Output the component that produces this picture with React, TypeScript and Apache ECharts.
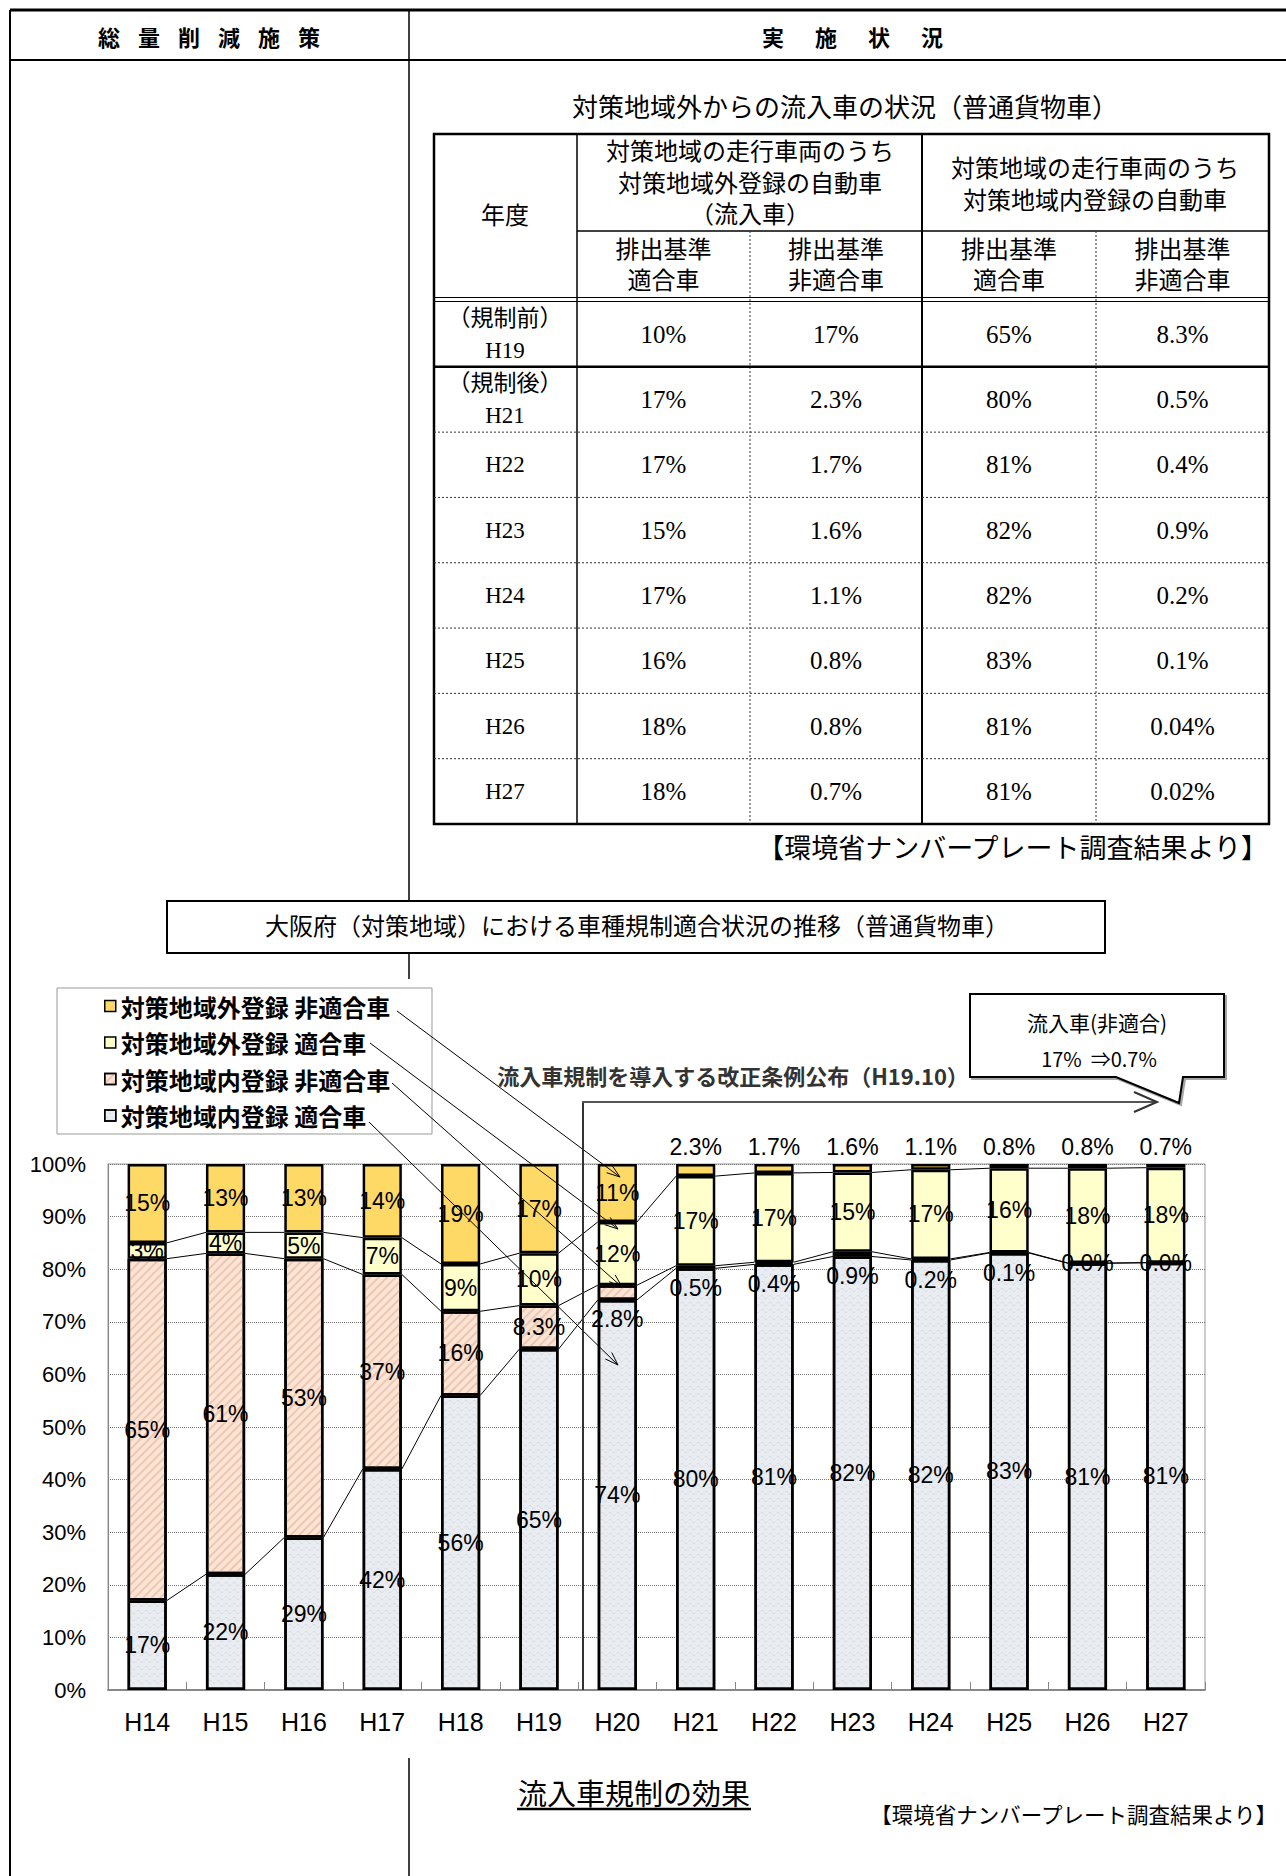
import React, { useEffect, useRef } from 'react';
import * as echarts from 'echarts';

// ---------------- data ----------------
const categories = ['H14', 'H15', 'H16', 'H17', 'H18', 'H19', 'H20', 'H21', 'H22', 'H23', 'H24', 'H25', 'H26', 'H27'];
const insideCompliant = [17, 22, 29, 42, 56, 65, 74, 80, 81, 82, 82, 83, 81, 81];
const insideNonCompliant = [65, 61, 53, 37, 16, 8.3, 2.8, 0.5, 0.4, 0.9, 0.2, 0.1, 0.04, 0.02];
const outsideCompliant = [3, 4, 5, 7, 9, 10, 12, 17, 17, 15, 17, 16, 18, 18];
const outsideNonCompliant = [15, 13, 13, 14, 19, 17, 11, 2.3, 1.7, 1.6, 1.1, 0.8, 0.8, 0.7];
const seriesNames = ['対策地域内登録 適合車', '対策地域内登録 非適合車', '対策地域外登録 適合車', '対策地域外登録 非適合車'];
const legendOrder = ['対策地域外登録 非適合車', '対策地域外登録 適合車', '対策地域内登録 非適合車', '対策地域内登録 適合車'];

const tableYearNotes = ['（規制前）', '（規制後）', '', '', '', '', '', ''];
const tableYears = ['H19', 'H21', 'H22', 'H23', 'H24', 'H25', 'H26', 'H27'];
const tableOutsideCompliant = ['10%', '17%', '17%', '15%', '17%', '16%', '18%', '18%'];
const tableOutsideNonCompliant = ['17%', '2.3%', '1.7%', '1.6%', '1.1%', '0.8%', '0.8%', '0.7%'];
const tableInsideCompliant = ['65%', '80%', '81%', '82%', '82%', '83%', '81%', '81%'];
const tableInsideNonCompliant = ['8.3%', '0.5%', '0.4%', '0.9%', '0.2%', '0.1%', '0.04%', '0.02%'];
const tableGroupOutside = ['対策地域の走行車両のうち', '対策地域外登録の自動車', '（流入車）'];
const tableGroupInside = ['対策地域の走行車両のうち', '対策地域内登録の自動車'];
const tableSubHeaders = [['排出基準', '適合車'], ['排出基準', '非適合車'], ['排出基準', '適合車'], ['排出基準', '非適合車']];

const headerLeftChars = ['総', '量', '削', '減', '施', '策'];
const headerRightChars = ['実', '施', '状', '況'];
const tableTitle = '対策地域外からの流入車の状況（普通貨物車）';
const sourceNote = '【環境省ナンバープレート調査結果より】';
const chartTitle = '大阪府（対策地域）における車種規制適合状況の推移（普通貨物車）';
const annotationText = '流入車規制を導入する改正条例公布（H19.10）';
const calloutTitle = '流入車(非適合)';
const calloutValues = '17%  ⇒0.7%';
const bottomTitle = '流入車規制の効果';

// ---------------- fonts ----------------
const JP = '"Noto Sans CJK JP", sans-serif';
const SERIF = '"Liberation Serif", "Noto Sans CJK JP", serif';
const SANS = '"Liberation Sans", Arial, sans-serif';

const raw = [insideCompliant, insideNonCompliant, outsideCompliant, outsideNonCompliant];
const totals = categories.map((_, i) => raw.reduce((s, arr) => s + arr[i], 0));
const norm = raw.map((arr) => arr.map((v, i) => (v / totals[i]) * 100));
const cum: number[][] = [];
norm.forEach((arr, s) => {
  cum.push(arr.map((v, i) => v + (s > 0 ? cum[s - 1][i] : 0)));
});
const fmt = (v: number) => (Number.isInteger(v) ? `${v}%` : `${v.toFixed(1)}%`);

const labelFor = (s: number, v: number): any => {
  if (s === 3 && v < 5) return { position: 'top', distance: 6 };
  if (s === 1 && v >= 0.1 && v < 5) return { position: 'bottom', distance: 8 };
  return { position: 'inside' };
};

const seriesColors = ['#E9ECF1', '#FCE4D6', '#FFFFCC', '#FFD966'];
const seriesDecals: any[] = [
  {
    symbol: 'path://M0 4 C2 0 4 0 6 4 C8 8 10 8 12 4 L12 5 C10 9 8 9 6 5 C4 1 2 1 0 5 Z',
    symbolSize: 1,
    dashArrayX: [[8, 0]],
    dashArrayY: [4, 3],
    color: 'rgba(165,172,185,0.55)',
  },
  {
    symbol: 'rect',
    symbolSize: 1,
    dashArrayX: [1, 0],
    dashArrayY: [1.2, 3.5],
    rotation: -Math.PI / 4,
    color: 'rgba(222,165,130,0.45)',
  },
  'none',
  'none',
];

// ---------------- graphic helpers ----------------
const line = (x1: number, y1: number, x2: number, y2: number, w = 1, color = '#000', dash?: number[]) => ({
  type: 'line',
  silent: true,
  z: 100,
  shape: { x1, y1, x2, y2 },
  style: { stroke: color, lineWidth: w, lineDash: dash },
});
const txt = (x: number, y: number, t: string, size: number, family = JP, opts: any = {}) => ({
  type: 'text',
  x,
  y,
  z: 100,
  silent: true,
  style: {
    text: t,
    fontSize: size,
    fontFamily: family,
    fontWeight: opts.weight || 'normal',
    fill: opts.color || '#000',
    align: opts.align || 'center',
    verticalAlign: 'middle',
    textAlign: opts.align || 'center',
    textVerticalAlign: 'middle',
  },
});
const arrow = (x1: number, y1: number, x2: number, y2: number, w = 1, color = '#000', head = 14, ang = 0.33) => {
  const a = Math.atan2(y2 - y1, x2 - x1);
  return [
    line(x1, y1, x2, y2, w, color),
    {
      type: 'polyline',
      silent: true,
      z: 100,
      shape: {
        points: [
          [x2 - head * Math.cos(a - ang), y2 - head * Math.sin(a - ang)],
          [x2, y2],
          [x2 - head * Math.cos(a + ang), y2 - head * Math.sin(a + ang)],
        ],
      },
      style: { stroke: color, lineWidth: w, fill: 'none' },
    },
  ];
};

function buildGraphics() {
  const g: any[] = [];
  // page frame
  g.push(line(10, 10, 1286, 10, 3));
  g.push(line(10, 60, 1286, 60, 2));
  g.push(line(10, 10, 10, 1876, 2));
  g.push(line(409, 10, 409, 901, 1.5));
  g.push(line(409, 953, 409, 979, 1.5));
  g.push(line(409, 1758, 409, 1876, 1.5));
  headerLeftChars.forEach((c, i) => g.push(txt(109 + 40 * i, 36, c, 22, JP, { weight: 'bold' })));
  headerRightChars.forEach((c, i) => g.push(txt(773 + 53 * i, 36, c, 22, JP, { weight: 'bold' })));

  // table
  g.push(txt(845, 108, tableTitle, 26, SERIF));
  const L = 434, R = 1269, T = 134, B = 824;
  const cols = [434, 577, 750, 922, 1096, 1269];
  const dataTop = 301.5;
  const rowH = (B - dataTop) / tableYears.length;
  g.push({ type: 'rect', z: 100, silent: true, shape: { x: L, y: T, width: R - L, height: B - T }, style: { fill: 'none', stroke: '#000', lineWidth: 2.5 } });
  g.push(line(577, T, 577, B, 1.5));
  g.push(line(922, T, 922, B, 2));
  g.push(line(577, 231, R, 231, 1.5));
  g.push(line(750, 231, 750, B, 1, '#333', [2, 2]));
  g.push(line(1096, 231, 1096, B, 1, '#333', [2, 2]));
  g.push(line(L, 297.5, R, 297.5, 1.2));
  g.push(line(L, 301.5, R, 301.5, 1.2));
  for (let r = 1; r < tableYears.length; r++) {
    const y = dataTop + rowH * r;
    if (r === 1) g.push(line(L, y, R, y, 2.5));
    else g.push(line(L, y, R, y, 1, '#333', [2, 2]));
  }
  g.push(txt(505, 216, '年度', 24, SERIF));
  tableGroupOutside.forEach((s, i) => g.push(txt(750, 152 + 31.5 * i, s, 24, SERIF)));
  tableGroupInside.forEach((s, i) => g.push(txt(1095, 169 + 31.5 * i, s, 24, SERIF)));
  tableSubHeaders.forEach((pair, c) => {
    const cx = (cols[c + 1] + cols[c + 2]) / 2;
    pair.forEach((s, k) => g.push(txt(cx, 250 + 31 * k, s, 24, SERIF)));
  });
  const cellCols = [tableOutsideCompliant, tableOutsideNonCompliant, tableInsideCompliant, tableInsideNonCompliant];
  tableYears.forEach((yr, r) => {
    const cy = dataTop + rowH * (r + 0.5);
    if (tableYearNotes[r]) {
      g.push(txt(505, cy - 16, tableYearNotes[r], 23, SERIF));
      g.push(txt(505, cy + 16, yr, 23, SERIF));
    } else {
      g.push(txt(505, cy, yr, 23, SERIF));
    }
    cellCols.forEach((arr, c) => {
      const cx = (cols[c + 1] + cols[c + 2]) / 2;
      g.push(txt(cx, cy, arr[r], 25, SERIF));
    });
  });
  g.push(txt(1268, 849, sourceNote, 27, SERIF, { align: 'right' }));

  // chart title box
  g.push({ type: 'rect', z: 100, silent: true, shape: { x: 167, y: 901, width: 938, height: 52 }, style: { fill: '#fff', stroke: '#000', lineWidth: 2 } });
  g.push(txt(637, 927, chartTitle, 24, SERIF));

  // legend box
  g.push({ type: 'rect', z: 1, silent: true, shape: { x: 57, y: 988, width: 375, height: 146 }, style: { fill: '#fff', stroke: '#999', lineWidth: 1 } });

  // leader lines
  g.push(...arrow(397, 1011, 620, 1177));
  g.push(...arrow(370, 1043, 618, 1229));
  g.push(...arrow(392, 1083, 622, 1287));
  g.push(...arrow(369, 1122, 618, 1365));

  // annotation
  g.push(txt(733, 1075, annotationText, 22, JP, { weight: 'bold', color: '#333' }));
  g.push(line(583, 1102, 583, 1690, 2, '#333'));
  g.push(line(582, 1102, 1157, 1102, 2, '#555'));
  g.push({
    type: 'polyline', z: 100, silent: true,
    shape: { points: [[1134, 1092], [1157, 1102], [1134, 1112]] },
    style: { stroke: '#333', lineWidth: 2, fill: 'none' },
  });

  // callout
  g.push({
    type: 'polygon', z: 100, silent: true,
    shape: { points: [[970, 994], [1224, 994], [1224, 1077], [1183, 1077], [1179, 1103], [1116, 1077], [970, 1077]] },
    style: { fill: '#fff', stroke: '#000', lineWidth: 2, shadowColor: 'rgba(0,0,0,0.35)', shadowOffsetX: 2, shadowOffsetY: 2, shadowBlur: 1 },
  });
  g.push(txt(1097, 1022, calloutTitle, 21, JP));
  g.push(txt(1099, 1058, calloutValues, 20, JP));

  // bottom
  g.push(txt(634, 1792, bottomTitle, 29, JP));
  g.push(line(517, 1809, 751, 1809, 2.5));
  g.push(txt(1277, 1816, sourceNote, 21.5, SERIF, { align: 'right' }));
  return g;
}

function buildOption(): any {
  const bars = raw.map((arr, s) => ({
    name: seriesNames[s],
    type: 'bar',
    stack: 'total',
    barWidth: '50%',
    data: arr.map((v, i) => ({ value: norm[s][i], raw: v, label: labelFor(s, v) })),
    itemStyle: { color: seriesColors[s], borderColor: '#000', borderWidth: 2.5, decal: seriesDecals[s] },
    label: {
      show: true,
      formatter: (p: any) => fmt(p.data.raw),
      fontSize: 23,
      fontFamily: SANS,
      color: '#000',
    },
    emphasis: { disabled: true },
    z: 2,
  }));
  const connectors = {
    type: 'custom',
    silent: true,
    z: 3,
    data: categories.slice(0, -1).map((_, i) => [i, 0]),
    renderItem: (_params: any, api: any) => {
      const i = api.value(0);
      const half = api.size([1, 0])[0] * 0.25;
      const children = [0, 1, 2].map((s) => {
        const p1 = api.coord([i, cum[s][i]]);
        const p2 = api.coord([i + 1, cum[s][i + 1]]);
        return {
          type: 'line',
          shape: { x1: p1[0] + half, y1: p1[1], x2: p2[0] - half, y2: p2[1] },
          style: { stroke: '#000', lineWidth: 1 },
        };
      });
      return { type: 'group', children };
    },
  };
  return {
    animation: false,
    backgroundColor: '#fff',
    grid: { left: 108, top: 1164, width: 1097, height: 526, show: true, borderColor: '#999', borderWidth: 1, backgroundColor: '#fff' },
    legend: {
      data: legendOrder.map((name) => ({ name, icon: 'rect' })),
      orient: 'vertical',
      left: 99,
      top: 989,
      itemWidth: 11,
      itemHeight: 11,
      itemGap: 12.5,
      selectedMode: false,
      textStyle: { fontSize: 24, fontFamily: JP, fontWeight: 'bold', color: '#000', lineHeight: 24 },
      itemStyle: { borderColor: '#000', borderWidth: 1.5 },
      z: 5,
    },
    xAxis: {
      type: 'category',
      data: categories,
      axisLine: { lineStyle: { color: '#888', width: 2 } },
      axisTick: { show: true, inside: true, length: 8, interval: 0, lineStyle: { color: '#888' } },
      axisLabel: { fontSize: 25, fontFamily: SANS, color: '#000', margin: 19, interval: 0 },
    },
    yAxis: {
      type: 'value',
      min: 0,
      max: 100,
      interval: 10,
      axisLine: { show: true, lineStyle: { color: '#888' } },
      axisTick: { show: false },
      axisLabel: { formatter: '{value}%', fontSize: 22, fontFamily: SANS, color: '#000', margin: 22 },
      splitLine: { lineStyle: { color: '#777', type: 'dotted', width: 1 } },
    },
    series: [...bars, connectors],
    graphic: { elements: buildGraphics() },
  };
}

export default function App() {
  const ref = useRef<HTMLDivElement>(null);
  useEffect(() => {
    if (!ref.current) return;
    const chart = echarts.init(ref.current, undefined, { renderer: 'svg' });
    chart.setOption(buildOption());
    return () => chart.dispose();
  }, []);
  return <div ref={ref} style={{ position: 'absolute', left: 0, top: 0, width: 1286, height: 1876, background: '#fff' }} />;
}
